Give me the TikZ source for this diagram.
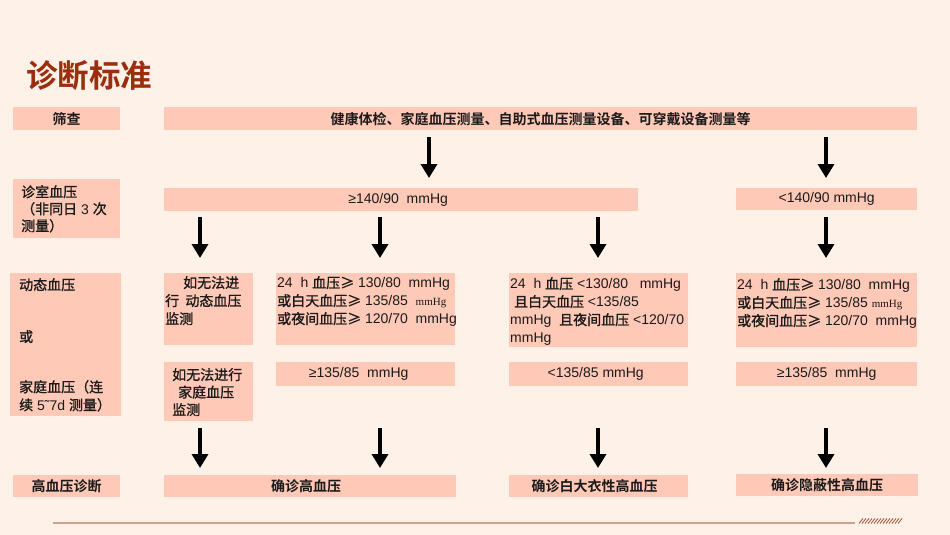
\documentclass[tikz,border=0pt]{standalone}
\usepackage{fontspec}
\setmainfont{Liberation Sans}
\newfontfamily\cjk{Noto Sans CJK SC}[FakeBold=1.2]
\newfontfamily\cjkb{Noto Sans CJK SC Bold}
\newfontfamily\serifmm{Liberation Serif}
\usetikzlibrary{arrows.meta}
\definecolor{bgc}{HTML}{FDF1E8}
\definecolor{boxc}{HTML}{FFC9B7}
\definecolor{titlec}{HTML}{9C2E10}
\definecolor{textc}{HTML}{1A1A1A}
\definecolor{rulec}{HTML}{C9A38C}
\definecolor{hatchc}{HTML}{A8604C}
\newcommand\zh[1]{{\cjk #1}}
\begin{document}
\begin{tikzpicture}[x=1pt,y=-1pt,
  box/.style={fill=boxc, draw=none, inner sep=0pt, anchor=north west, text=textc,
              font=\fontsize{14}{18}\selectfont},
  arr/.style={line width=3.6pt, -{Triangle[length=14pt,width=16pt]}, black},
  txt/.style={inner sep=0pt, anchor=north west, text=textc, align=left,
              font=\fontsize{14}{18}\selectfont},
  bzh/.style={font=\cjkb\fontsize{14}{18}\selectfont},
]
\useasboundingbox (0,0) rectangle (950,535);
\fill[bgc] (0,0) rectangle (950,535);

% title
\node[anchor=west, inner sep=0pt, text=titlec, font=\cjkb\fontsize{31.5}{32}\selectfont] (title) at (26,76) {诊断标准};

% left column
\node[box, minimum width=107pt, minimum height=23pt, bzh] (scrL) at (13,107) {筛查};
\node[box, minimum width=107pt, minimum height=59pt] (offL) at (13,179) {};
\node[txt, font=\fontsize{14}{17}\selectfont] (offLt) at (21,185) {\zh{诊室血压}\\\zh{（非同日} 3 \zh{次}\\\zh{测量）}};
\node[box, minimum width=111pt, minimum height=143pt] (ambL) at (10,273) {};
\node[txt] (ambLa) at (19,278) {\zh{动态血压}};
\node[txt] (ambLb) at (19,330) {\zh{或}};
\node[txt] (ambLc) at (19,380) {\zh{家庭血压（连}\\\zh{续} 5˜7d \zh{测量）}};
\node[box, minimum width=107pt, minimum height=22pt, bzh] (dxL) at (13,475) {高血压诊断};

% screening row
\node[box, minimum width=753pt, minimum height=23pt, font=\cjkb\fontsize{14}{16}\selectfont] (scr) at (164,107) {健康体检、家庭血压测量、自助式血压测量设备、可穿戴设备测量等};

% office BP row
\node[box, minimum width=474pt, minimum height=23pt] (hi) at (164,188) {≥140/90\ \ mmHg\hspace*{6pt}};
\node[box, minimum width=181pt, minimum height=22pt] (lo) at (736,188) {<140/90 mmHg};

% ambulatory row
\node[box, minimum width=89pt, minimum height=72pt] (noAmb) at (164,273) {};
\node[txt] (noAmbt) at (165,276) {\hspace*{18pt}\zh{如无法进}\\\zh{行\ \ 动态血压}\\\zh{监测}};
\node[box, minimum width=179pt, minimum height=72pt] (amb1) at (276,273) {};
\node[txt] (amb1t) at (277,276) {24\ \ h \zh{血压≥} 130/80\ \ mmHg\\\zh{或白天血压≥} 135/85\ \ {\serifmm\fontsize{11}{18}\selectfont mmHg}\\\zh{或夜间血压≥} 120/70\ \ mmHg};
\node[box, minimum width=179pt, minimum height=74pt] (amb2) at (509,273) {};
\node[txt] (amb2t) at (510,277) {24\ \ h \zh{血压} <130/80\ \ \ mmHg\\\ \zh{且白天血压} <135/85\\mmHg\ \ \zh{且夜间血压} <120/70\\mmHg};
\node[box, minimum width=181pt, minimum height=74pt] (amb3) at (736,273) {};
\node[txt] (amb3t) at (737,278) {24\ \ h \zh{血压≥} 130/80\ \ mmHg\\\zh{或白天血压≥} 135/85\ {\serifmm\fontsize{11}{18}\selectfont mmHg}\\\zh{或夜间血压≥} 120/70\ \ mmHg};

% home row
\node[box, minimum width=89pt, minimum height=59pt] (noHome) at (164,362) {};
\node[txt, font=\fontsize{14}{17.5}\selectfont] (noHomet) at (164,368) {\hspace*{8pt}\zh{如无法进行}\\\hspace*{14pt}\zh{家庭血压}\\\hspace*{8pt}\zh{监测}};
\node[box, minimum width=179pt, minimum height=24pt] (home1) at (276,362) {≥135/85\ \ mmHg\hspace*{14pt}};
\node[box, minimum width=179pt, minimum height=24pt] (home2) at (509,362) {<135/85 mmHg\hspace*{6pt}};
\node[box, minimum width=181pt, minimum height=24pt] (home3) at (736,362) {≥135/85\ \ mmHg};

% diagnosis row
\node[box, minimum width=292pt, minimum height=22pt, bzh] (dx1) at (164,475) {确诊高血压\hspace*{8pt}};
\node[box, minimum width=179pt, minimum height=22pt, bzh] (dx2) at (509,475) {确诊白大衣性高血压\hspace*{8pt}};
\node[box, minimum width=182pt, minimum height=22pt, bzh] (dx3) at (736,474) {确诊隐蔽性高血压};

% arrow columns
\coordinate (c1) at (200,0);
\coordinate (c2) at (380,0);
\coordinate (c3) at (598,0);
\coordinate (c4) at (826,0);
\coordinate (c0) at (429,0);

\draw[arr] ([yshift=-7pt]scr.south -| c0) -- ([yshift=10pt]hi.north -| c0);
\draw[arr] ([yshift=-7pt]scr.south -| c4) -- ([yshift=10pt]lo.north -| c4);

\draw[arr] ([yshift=-6pt]hi.south -| c1) -- ([yshift=15pt]noAmb.north -| c1);
\draw[arr] ([yshift=-6pt]hi.south -| c2) -- ([yshift=15pt]amb1.north -| c2);
\draw[arr] ([yshift=-6pt]hi.south -| c3) -- ([yshift=15pt]amb2.north -| c3);
\draw[arr] ([yshift=-7pt]lo.south -| c4) -- ([yshift=15pt]amb3.north -| c4);

\draw[arr] ([yshift=-7pt]noHome.south -| c1) -- ([yshift=7pt]dx1.north -| c1);
\draw[arr] ([yshift=-42pt]home1.south -| c2) -- ([yshift=7pt]dx1.north -| c2);
\draw[arr] ([yshift=-42pt]home2.south -| c3) -- ([yshift=7pt]dx2.north -| c3);
\draw[arr] ([yshift=-42pt]home3.south -| c4) -- ([yshift=6pt]dx3.north -| c4);

% bottom rule and hatch
\coordinate (ruleA) at (53,523);
\coordinate (ruleB) at (855,523);
\draw[rulec, line width=1.2pt] (ruleA) -- (ruleB);
\foreach \i in {0,...,13} {
  \draw[hatchc, line width=0.9pt] (859+3*\i,523.5) -- (863+3*\i,518.5);
}
\end{tikzpicture}
\end{document}
